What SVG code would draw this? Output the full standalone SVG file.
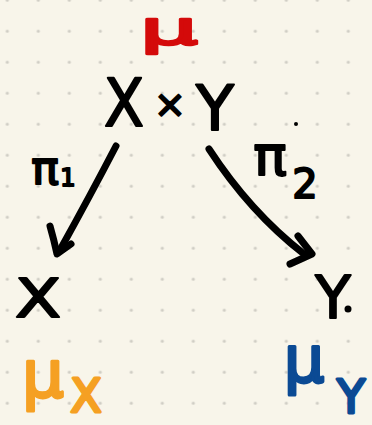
<svg xmlns="http://www.w3.org/2000/svg" width="372" height="425" viewBox="0 0 372 425">
<defs>
<pattern id="dots" x="-8.5" y="15.7" width="31" height="31" patternUnits="userSpaceOnUse">
<circle cx="15.8" cy="15.5" r="1.6" fill="#cfcdc4"/>
</pattern>
<style>
.t{font-family:"DejaVu Sans",sans-serif;stroke-linejoin:round}
.k{fill:#000;stroke:#000;stroke-width:2}
.ln{fill:none;stroke:#000;stroke-width:7;stroke-linecap:round;stroke-linejoin:round}
</style>
</defs>
<rect width="372" height="425" fill="#f8f5ea"/>
<rect width="372" height="425" fill="url(#dots)"/>
<g id="mu">
<text class="t" x="169" y="44" font-size="46" text-anchor="middle" textLength="58" lengthAdjust="spacingAndGlyphs" fill="#d40a0a" stroke="#d40a0a" stroke-width="2.5">μ</text>
</g>
<g id="XxY">
<text class="t k" y="126" font-size="66"><tspan x="104" textLength="40" lengthAdjust="spacingAndGlyphs">X</tspan></text>
<text class="t k" x="170" y="117" font-size="38" text-anchor="middle">×</text>
<text class="t k" x="215" y="130" font-size="62" text-anchor="middle">Y</text>
<circle cx="296" cy="124" r="2" fill="#000"/>
</g>
<g id="X">
<text class="t k" x="38" y="317" font-size="54" text-anchor="middle" textLength="46" lengthAdjust="spacingAndGlyphs">X</text>
</g>
<g id="Y">
<text class="t k" x="333" y="318" font-size="58" text-anchor="middle">Y</text>
<circle cx="348" cy="309" r="3.5" fill="#000"/>
</g>
<g id="muX">
<text class="t" x="43" y="397" font-size="66" text-anchor="middle" fill="#f5a023" stroke="#f5a023" stroke-width="3">μ</text>
<text class="t" x="86" y="412" font-size="46" text-anchor="middle" fill="#f5a023" stroke="#f5a023" stroke-width="3">X</text>
</g>
<g id="muY">
<text class="t" x="304" y="382" font-size="64" text-anchor="middle" fill="#0b4a94" stroke="#0b4a94" stroke-width="3">μ</text>
<text class="t" x="351" y="413" font-size="46" text-anchor="middle" fill="#0b4a94" stroke="#0b4a94" stroke-width="3">Y</text>
</g>
<g id="connectors">
<g id="pi1">
<path class="ln" d="M116,146 Q90,196 60,250"/>
<path class="ln" d="M50,226 Q54,240 57,254 L71,244"/>
<text class="t k" x="45" y="184" font-size="46" text-anchor="middle">π</text>
<text class="t k" x="68" y="186" font-size="24" text-anchor="middle">1</text>
</g>
<g id="pi2">
<path class="ln" d="M209,149 Q250,212 304,254"/>
<path class="ln" d="M298,236 L312,254 L290,264"/>
<text class="t k" x="270" y="175" font-size="56" text-anchor="middle">π</text>
<text class="t k" x="305" y="198" font-size="40" text-anchor="middle">2</text>
</g>
</g>
</svg>
